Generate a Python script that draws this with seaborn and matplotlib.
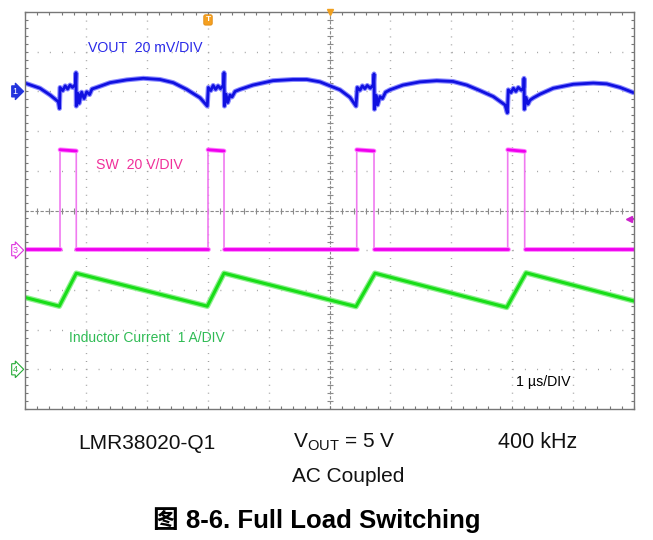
import numpy as np
import pandas as pd
import matplotlib
matplotlib.use("Agg")
import matplotlib.pyplot as plt
import seaborn as sns

sns.set_style("white")
plt.rcParams['font.family'] = ['Liberation Sans', 'Noto Sans CJK SC', 'DejaVu Sans']
plt.rcParams['mathtext.fontset'] = 'custom'
plt.rcParams['mathtext.rm'] = 'Liberation Sans'

# ---- scope traces, time in us (1 us/DIV), level in divisions from screen centre ----

# VOUT (ch1, 20 mV/DIV, AC coupled)
vout_t = [0, 0.246, 0.411, 0.547, 0.566,
          0.575, 0.62, 0.66, 0.70, 0.74, 0.78, 0.83, 0.837, 0.842, 0.87, 0.89, 0.93, 0.97, 1.013, 1.06, 1.10,
          1.177, 1.396, 1.67, 1.943, 2.217, 2.435, 2.655, 2.874, 2.993,
          3.010, 3.05, 3.09, 3.13, 3.17, 3.21, 3.26, 3.268, 3.275, 3.30, 3.33, 3.366, 3.40, 3.45,
          3.53, 3.744, 4.072, 4.401, 4.626, 4.844, 5.008, 5.172, 5.337, 5.435,
          5.456, 5.50, 5.54, 5.58, 5.62, 5.67, 5.72, 5.731, 5.738, 5.764, 5.79, 5.829, 5.87, 5.92,
          5.993, 6.207, 6.486, 6.76, 7.028, 7.253, 7.471, 7.69, 7.882, 7.920,
          7.936, 7.98, 8.02, 8.06, 8.10, 8.15, 8.19, 8.194, 8.200, 8.227, 8.26, 8.292, 8.35,
          8.456, 8.675, 9.003, 9.332, 9.552, 9.77, 9.989]
vout_v = [3.21, 3.08, 2.91, 2.74, 2.57,
          3.10, 3.02, 3.14, 3.06, 3.16, 3.10, 3.18, 3.47, 2.63, 2.95, 2.70, 2.98, 2.82, 2.99, 2.92, 3.06,
          3.10, 3.22, 3.29, 3.33, 3.30, 3.22, 3.05, 2.84, 2.63,
          3.10, 3.02, 3.15, 3.05, 3.14, 3.07, 3.16, 3.47, 2.63, 2.93, 2.72, 2.91, 2.86, 3.00,
          3.05, 3.16, 3.27, 3.30, 3.30, 3.24, 3.14, 3.04, 2.85, 2.63,
          3.10, 3.03, 3.14, 3.07, 3.15, 3.08, 3.17, 3.44, 2.55, 2.90, 2.66, 2.87, 2.82, 2.98,
          3.04, 3.16, 3.24, 3.27, 3.25, 3.16, 3.02, 2.87, 2.66, 2.46,
          3.04, 2.97, 3.08, 3.00, 3.10, 3.03, 3.10, 3.33, 2.55, 2.85, 2.68, 2.78, 2.84,
          2.93, 3.08, 3.18, 3.21, 3.19, 3.10, 2.97]

# SW node (ch3, 20 V/DIV); points 2k and 2k+1 form a flat part
sw_t = [0, 0.575, 0.575, 0.842, 0.842, 3.005, 3.005, 3.268, 3.268,
        5.447, 5.447, 5.731, 5.731, 7.926, 7.926, 8.205, 8.205, 10.0]
sw_v = [-0.97, -0.97, 1.53, 1.50, -0.97, -0.97, 1.53, 1.50, -0.97,
        -0.97, 1.53, 1.50, -0.97, -0.97, 1.53, 1.49, -0.97, -0.97]

# inductor current (ch4, 1 A/DIV)
il_t = [0, 0.563, 0.842, 2.993, 3.268, 5.435, 5.747, 7.910, 8.227, 10.0]
il_v = [-2.19, -2.41, -1.58, -2.41, -1.58, -2.42, -1.58, -2.44, -1.57, -2.28]

# channel reference markers (divisions)
ch_labels = ["1", "3", "4"]
ch_levels = [3, -1, -4]
ch_colors = ["#2233dd", "#dd33dd", "#22aa33"]

fig = plt.figure(figsize=(6.53, 5.40), dpi=100)
ax = fig.add_axes([25 / 653, 1 - 409 / 540, 609 / 653, 397 / 540])
ax.set_xlim(0, 10)
ax.set_ylim(-5, 5)

# graticule
for gx in range(1, 10):
    if gx == 5:
        continue
    ax.axvline(gx, color="#a0a0a0", lw=1.0, ls=(0, (0.7, 5.0)), zorder=0)
for gy in range(-4, 5):
    if gy == 0:
        continue
    ax.axhline(gy, color="#a0a0a0", lw=1.0, ls=(0, (0.7, 8.07)), zorder=0)
ax.axvline(5, color="#8a8a8a", lw=0.8, ls=(0, (3, 1.5)), zorder=0)
ax.axhline(0, color="#8a8a8a", lw=0.8, ls=(0, (3, 1.5)), zorder=0)
minor_x = np.arange(0, 10.01, 0.2)
minor_y = np.arange(-5, 5.01, 0.2)
ax.plot(minor_x, np.zeros_like(minor_x), ls="none", marker="|", ms=4, mew=0.8, color="#8a8a8a", zorder=0)
ax.plot(np.full_like(minor_y, 5), minor_y, ls="none", marker="_", ms=4, mew=0.8, color="#8a8a8a", zorder=0)

ax.set_xticks(minor_x)
ax.set_yticks(minor_y)
ax.tick_params(direction="in", length=2.5, width=0.8, color="#777777",
               top=True, right=True, bottom=True, left=True,
               labelbottom=False, labelleft=False)
for sp in ax.spines.values():
    sp.set_color("#777777")
    sp.set_linewidth(1.0)
ax.set_xlabel("")
ax.set_ylabel("")

# traces
sns.lineplot(x=vout_t, y=vout_v, estimator=None, sort=False, color="#8a8aff", lw=3.6, ax=ax, legend=False)
sns.lineplot(x=vout_t, y=vout_v, estimator=None, sort=False, color="#1010e0", lw=2.0, ax=ax, legend=False)

sns.lineplot(x=sw_t, y=sw_v, estimator=None, sort=False, color="#f07af0", lw=1.2, ax=ax, legend=False)
for k in range(0, len(sw_t), 2):
    seg = pd.DataFrame({"t": sw_t[k:k + 2], "v": sw_v[k:k + 2]})
    sns.lineplot(data=seg, x="t", y="v", estimator=None, sort=False, color="#ff80ff", lw=3.4, ax=ax, legend=False)
    sns.lineplot(data=seg, x="t", y="v", estimator=None, sort=False, color="#ee00ee", lw=2.0, ax=ax, legend=False)

sns.lineplot(x=il_t, y=il_v, estimator=None, sort=False, color="#90f090", lw=4.0, ax=ax, legend=False)
sns.lineplot(x=il_t, y=il_v, estimator=None, sort=False, color="#18dd18", lw=2.2, ax=ax, legend=False)

# channel markers on the left edge
for lab, lev, col in zip(ch_labels, ch_levels, ch_colors):
    filled = lab == "1"
    ax.annotate(lab, xy=(0, lev), xytext=(-7, 0), textcoords="offset points",
                ha="center", va="center", fontsize=6.5, annotation_clip=False,
                color="white" if filled else col,
                bbox=dict(boxstyle="rarrow,pad=0.12", fc=col if filled else "white", ec=col, lw=0.8))

# trigger marker, horizontal position, trigger level
ax.annotate("T", xy=(3.005, 4.8), ha="center", va="center", fontsize=6, color="white",
            fontweight="bold", annotation_clip=False,
            bbox=dict(boxstyle="round,pad=0.2", fc="#f5a020", ec="#e08a10", lw=0.6))
ax.plot([5], [5], marker="v", ms=5, color="#f0a020", clip_on=False, zorder=5)
ax.plot([9.92], [-0.21], marker="<", ms=4, color="#cc22cc", clip_on=False, zorder=5)
ax.plot([9.92, 10.0], [-0.21, -0.21], color="#cc22cc", lw=1.0, zorder=5)

# labels inside the screen
ax.text(1.034, 4.0, "VOUT  20 mV/DIV", color="#2a2ae8", fontsize=10.2, va="baseline")
ax.text(1.166, 1.04, "SW  20 V/DIV", color="#f0309a", fontsize=10.2, va="baseline")
ax.text(0.722, -3.30, "Inductor Current  1 A/DIV", color="#30bb55", fontsize=10.0, va="baseline")
ax.text(8.06, -4.42, "1 µs/DIV", color="black", fontsize=10.2, va="baseline")

# caption below the screen
fig.text(78 / 653, 1 - 449 / 540, "LMR38020-Q1", fontsize=15, va="baseline", color="#111111")
fig.text(293 / 653, 1 - 448 / 540, r"$\mathregular{V_{OUT}}$ = 5 V", fontsize=15, va="baseline", color="#111111")
fig.text(498 / 653, 1 - 448 / 540, "400 kHz", fontsize=15.5, va="baseline", color="#111111")
fig.text(292 / 653, 1 - 481.5 / 540, "AC Coupled", fontsize=15, va="baseline", color="#111111")
fig.text(153 / 653, 1 - 528 / 540, "图 8-6. Full Load Switching", fontsize=18.5, fontweight="bold",
         va="baseline", color="black")

fig.savefig("out.png", dpi=100)
